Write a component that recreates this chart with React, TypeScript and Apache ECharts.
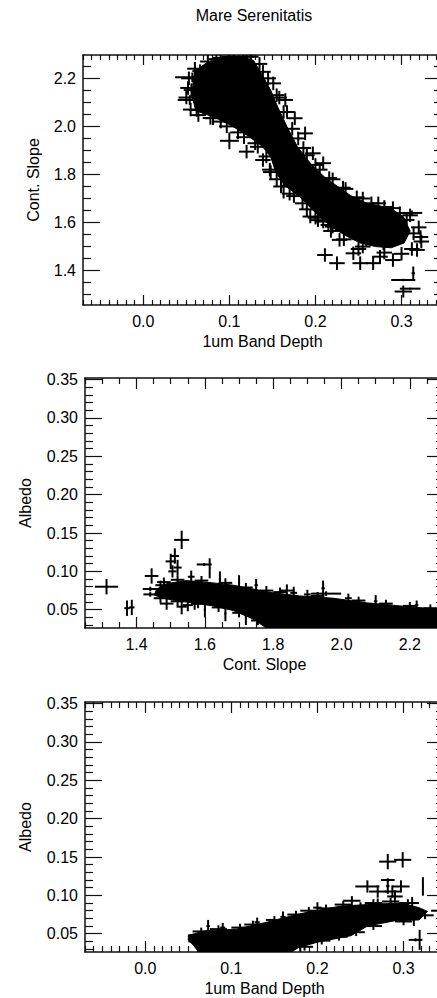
import React, { useEffect, useRef } from 'react';
import * as echarts from 'echarts';

// ---------- texts ----------
const TITLE = 'Mare Serenitatis';
const BAND_LABEL = '1um Band Depth';
const SLOPE_LABEL = 'Cont. Slope';
const ALBEDO_LABEL = 'Albedo';

// ---------- tick labels ----------
const bandTicks = [0.0, 0.1, 0.2, 0.3];
const slopeTicks = [1.4, 1.6, 1.8, 2.0, 2.2];
const albedoTicks = [0.05, 0.1, 0.15, 0.2, 0.25, 0.3, 0.35];

// ---------- axis ranges ----------
const bandRange = [-0.07, 0.347];
const slopeRangeY = [1.257, 2.297];
const slopeRangeX = [1.249, 2.3];
const albedoRange = [0.0262, 0.352];

// ---------- panel 1: band depth vs continuum slope ----------
// dense core of the cloud (outline of the solid region)
const core1: number[][] = [
  [0.06, 2.23], [0.075, 2.268], [0.093, 2.285], [0.112, 2.292], [0.128, 2.275], [0.137, 2.221],
  [0.148, 2.151], [0.156, 2.082], [0.167, 1.999], [0.179, 1.916], [0.194, 1.847], [0.21, 1.791],
  [0.225, 1.752], [0.241, 1.712], [0.26, 1.68], [0.287, 1.66], [0.302, 1.625], [0.31, 1.565],
  [0.303, 1.515], [0.288, 1.495], [0.27, 1.5], [0.252, 1.515], [0.238, 1.54], [0.222, 1.574],
  [0.208, 1.615], [0.196, 1.655], [0.181, 1.71], [0.165, 1.752], [0.154, 1.808], [0.148, 1.874],
  [0.138, 1.918], [0.122, 1.96], [0.103, 2.002], [0.083, 2.038], [0.061, 2.065], [0.057, 2.123],
  [0.058, 2.193],
];
// individual measurements [x, y, xErr?, yErr?]
const pts1: number[][] = [
  [0.057, 2.204, 0.02, 0.02], [0.066, 2.23], [0.056, 2.151], [0.054, 2.11, 0.014, 0.02],
  [0.062, 2.068], [0.064, 2.047], [0.081, 2.034], [0.1, 1.94, 0.011, 0.035], [0.12, 1.895],
  [0.139, 1.86], [0.165, 2.11], [0.176, 2.034], [0.188, 1.971], [0.197, 1.888], [0.209, 1.847],
  [0.163, 1.75, 0.002, 0.05], [0.194, 1.625], [0.209, 1.604], [0.22, 1.583], [0.211, 1.465],
  [0.225, 1.431], [0.252, 1.431], [0.267, 1.431], [0.273, 1.68], [0.298, 1.639], [0.314, 1.555],
  [0.323, 1.521], [0.29, 1.444], [0.302, 1.361, 0.014, 0.005], [0.3136, 1.389, 0.002, 0.028],
  [0.302, 1.313, 0.01, 0.025], [0.31, 1.325, 0.012, 0.004], [0.24, 1.639], [0.244, 1.555],
  [0.259, 1.528], [0.279, 1.514], [0.29, 1.555], [0.228, 1.528], [0.236, 1.694], [0.259, 1.611],
  [0.283, 1.583], [0.306, 1.611], [0.318, 1.486], [0.275, 1.458], [0.244, 1.472], [0.139, 2.227],
  [0.116, 2.276], [0.151, 2.179], [0.085, 2.28], [0.1, 2.29], [0.125, 2.29], [0.07, 2.08],
  [0.09, 2.02], [0.11, 1.975], [0.13, 1.93], [0.147, 1.82], [0.155, 1.78], [0.17, 1.72],
  [0.185, 1.68], [0.2, 1.62], [0.215, 1.59], [0.25, 1.49], [0.158, 2.12], [0.167, 2.06],
  [0.18, 1.95], [0.19, 1.88], [0.205, 1.82], [0.22, 1.78], [0.235, 1.74], [0.255, 1.7],
  [0.28, 1.665], [0.312, 1.64, 0.012, 0.01],
  // upper-right edge
  [0.135, 2.26], [0.145, 2.2], [0.155, 2.13], [0.163, 2.06], [0.173, 1.99], [0.186, 1.91],
  [0.2, 1.84], [0.216, 1.785], [0.232, 1.745], [0.248, 1.705], [0.265, 1.68], [0.29, 1.66],
  [0.31, 1.63], [0.32, 1.58], [0.322, 1.54],
  // lower-left edge
  [0.055, 2.07], [0.078, 2.035], [0.097, 2.0], [0.117, 1.955], [0.133, 1.915], [0.143, 1.875],
  [0.148, 1.81], [0.16, 1.75], [0.175, 1.71], [0.19, 1.655], [0.203, 1.61], [0.218, 1.565],
  [0.233, 1.53], [0.255, 1.5], [0.28, 1.475], [0.3, 1.47], [0.312, 1.49],
  // top and left edge
  [0.06, 2.24], [0.075, 2.27], [0.09, 2.285], [0.105, 2.29], [0.12, 2.29], [0.052, 2.16],
  [0.053, 2.2], [0.05, 2.12],
];

// ---------- panel 2: continuum slope vs albedo ----------
const core2: number[][] = [
  [1.459, 0.077], [1.488, 0.084], [1.546, 0.088], [1.624, 0.085], [1.683, 0.082], [1.741, 0.077],
  [1.8, 0.072], [1.878, 0.068], [1.976, 0.065], [2.073, 0.059], [2.171, 0.055], [2.3, 0.05],
  [2.3, 0.0262], [1.78, 0.0262], [1.741, 0.038], [1.683, 0.049], [1.624, 0.055], [1.546, 0.06],
  [1.488, 0.064], [1.452, 0.069],
];
const pts2: number[][] = [
  [1.312, 0.08, 0.034, 0.01], [1.372, 0.052, 0.008, 0.01], [1.386, 0.053, 0.008, 0.01],
  [1.444, 0.094, 0.02, 0.01], [1.44, 0.077, 0.022, 0.003], [1.44, 0.07, 0.02, 0.003],
  [1.5, 0.113, 0.015, 0.01], [1.52, 0.105, 0.012, 0.01], [1.512, 0.12, 0.012, 0.01],
  [1.505, 0.1, 0.012, 0.008], [1.532, 0.141, 0.022, 0.012], [1.598, 0.109, 0.022, 0.002],
  [1.614, 0.104, 0.002, 0.013], [1.488, 0.058, 0.02, 0.008], [1.532, 0.054, 0.015, 0.01],
  [1.55, 0.056, 0.015, 0.008], [1.57, 0.058, 0.01, 0.008], [1.84, 0.075], [1.946, 0.078, 0.005, 0.01],
  [1.955, 0.071, 0.044, 0.003], [1.76, 0.05, 0.02, 0.003], [2.27, 0.039, 0.02, 0.01],
  [1.644, 0.09, 0.003, 0.01], [1.7, 0.085, 0.003, 0.01], [1.86, 0.072, 0.01, 0.008],
  [2.1, 0.061, 0.005, 0.008], [2.22, 0.056, 0.005, 0.006], [1.56, 0.093, 0.01, 0.008],
  [1.47, 0.082, 0.015, 0.006], [1.75, 0.082, 0.005, 0.008], [1.9, 0.07, 0.01, 0.006],
  [2.02, 0.065, 0.01, 0.006], [1.6, 0.05, 0.003, 0.01], [1.66, 0.045, 0.003, 0.01],
  [1.72, 0.04, 0.003, 0.01], [1.8, 0.028, 0.003, 0.01], [1.86, 0.03, 0.003, 0.006],
  // top edge
  [1.48, 0.086, 0.02, 0.006], [1.52, 0.089, 0.02, 0.006], [1.59, 0.088, 0.02, 0.006],
  [1.66, 0.085, 0.02, 0.006], [1.72, 0.079, 0.02, 0.006], [1.78, 0.075, 0.02, 0.006],
  [1.82, 0.073, 0.02, 0.006], [1.93, 0.068, 0.02, 0.005], [2.05, 0.062, 0.02, 0.005],
  [2.13, 0.058, 0.02, 0.005], [2.2, 0.055, 0.02, 0.005], [2.26, 0.052, 0.02, 0.005],
  // lower edge
  [1.47, 0.065, 0.02, 0.006], [1.52, 0.061, 0.02, 0.006], [1.58, 0.058, 0.02, 0.006],
  [1.64, 0.053, 0.02, 0.006], [1.7, 0.046, 0.02, 0.006], [1.755, 0.036, 0.02, 0.006],
];

// ---------- panel 3: band depth vs albedo ----------
const core3: number[][] = [
  [0.05, 0.048], [0.071, 0.054], [0.106, 0.056], [0.145, 0.066], [0.169, 0.073], [0.188, 0.078],
  [0.227, 0.086], [0.258, 0.088], [0.297, 0.09], [0.318, 0.084], [0.328, 0.079], [0.318, 0.068],
  [0.29, 0.067], [0.258, 0.06], [0.239, 0.0475], [0.2, 0.039], [0.178, 0.032], [0.17, 0.0262],
  [0.062, 0.0262], [0.056, 0.035], [0.05, 0.042],
];
const pts3: number[][] = [
  [0.2817, 0.144, 0.01, 0.01], [0.299, 0.1463, 0.01, 0.01], [0.2817, 0.12, 0.008, 0.002],
  [0.2817, 0.112, 0.002, 0.01], [0.258, 0.1116, 0.014, 0.008], [0.297, 0.1116, 0.01, 0.008],
  [0.29, 0.0986], [0.27, 0.105, 0.01, 0.008], [0.287, 0.105], [0.3225, 0.1116, 0.001, 0.012],
  [0.314, 0.042, 0.008, 0.002], [0.3187, 0.042, 0.001, 0.013], [0.062, 0.048, 0.012, 0.002],
  [0.06, 0.04, 0.01, 0.002], [0.073, 0.06, 0.002, 0.008], [0.09, 0.058, 0.003, 0.006],
  [0.13, 0.065, 0.003, 0.006], [0.16, 0.072, 0.003, 0.007], [0.2, 0.084, 0.005, 0.007],
  [0.24, 0.093, 0.01, 0.006], [0.2, 0.045, 0.02, 0.004], [0.22, 0.05, 0.01, 0.006],
  [0.34, 0.08, 0.008, 0.004], [0.3, 0.08, 0.01, 0.008], [0.31, 0.09, 0.008, 0.008],
  [0.25, 0.085, 0.01, 0.006], [0.27, 0.088, 0.008, 0.008], [0.18, 0.035, 0.003, 0.008],
  [0.175, 0.04, 0.01, 0.005], [0.312, 0.07, 0.002, 0.01],
  // top edge
  [0.065, 0.053, 0.01, 0.005], [0.085, 0.056, 0.01, 0.005], [0.11, 0.058, 0.01, 0.005],
  [0.125, 0.062, 0.01, 0.005], [0.15, 0.068, 0.01, 0.005], [0.175, 0.075, 0.01, 0.005],
  [0.19, 0.08, 0.01, 0.005], [0.21, 0.083, 0.01, 0.005], [0.23, 0.088, 0.01, 0.005],
  [0.265, 0.09, 0.01, 0.005], [0.285, 0.092, 0.01, 0.005], [0.305, 0.09, 0.01, 0.005],
  // lower edge
  [0.185, 0.033, 0.01, 0.005], [0.205, 0.041, 0.01, 0.005], [0.225, 0.046, 0.01, 0.005],
  [0.245, 0.052, 0.01, 0.005], [0.265, 0.06, 0.01, 0.005], [0.3, 0.066, 0.01, 0.005],
  [0.325, 0.074, 0.01, 0.005],
];

const FONT = '"Liberation Sans", Arial, Helvetica, sans-serif';
const INK = '#111';

function minorTicks(min: number, max: number, step: number, majorStep: number) {
  const out: number[] = [];
  const start = Math.ceil(min / step - 1e-9);
  const end = Math.floor(max / step + 1e-9);
  for (let i = start; i <= end; i++) {
    const v = +(i * step).toFixed(6);
    const r = v / majorStep;
    if (Math.abs(r - Math.round(r)) < 1e-6) continue;
    out.push(v);
  }
  return out;
}

function axisSet(
  dim: 'x' | 'y', gridIndex: number, range: number[], majors: number[], minors: number[],
  decimals: number, majorLen: number, minorLen: number, name: string, nameGap: number
) {
  const line = { color: INK, width: 1.5 };
  const tickLine = { color: INK, width: 1.2 };
  const common = { type: 'value', gridIndex, min: range[0], max: range[1], splitLine: { show: false }, minorTick: { show: false } };
  const main = dim === 'x' ? 'bottom' : 'left';
  const opp = dim === 'x' ? 'top' : 'right';
  return [
    {
      ...common, position: main, name, nameLocation: 'middle', nameGap,
      nameTextStyle: { fontSize: 16, color: '#000', fontFamily: FONT },
      axisLine: { show: true, onZero: false, lineStyle: line },
      axisTick: { show: true, inside: true, length: majorLen, customValues: majors, lineStyle: tickLine },
      axisLabel: {
        show: true, customValues: majors, formatter: (v: number) => v.toFixed(decimals),
        margin: dim === 'x' ? 8 : 7, fontSize: 16, color: '#000', fontFamily: FONT,
      },
    },
    {
      ...common, position: main, axisLine: { show: false, onZero: false },
      axisTick: { show: true, inside: true, length: minorLen, customValues: minors, lineStyle: tickLine },
      axisLabel: { show: false },
    },
    {
      ...common, position: opp, axisLine: { show: true, onZero: false, lineStyle: line },
      axisTick: { show: true, inside: true, length: majorLen, customValues: majors, lineStyle: tickLine },
      axisLabel: { show: false },
    },
    {
      ...common, position: opp, axisLine: { show: false, onZero: false },
      axisTick: { show: true, inside: true, length: minorLen, customValues: minors, lineStyle: tickLine },
      axisLabel: { show: false },
    },
  ];
}

function coreSeries(axisIndex: number, core: number[][]) {
  return {
    type: 'custom', xAxisIndex: axisIndex, yAxisIndex: axisIndex, clip: true, silent: true,
    data: core, encode: { x: 0, y: 1 },
    renderItem: (params: any, api: any) => {
      if (params.dataIndex !== 0) return null;
      const points = core.map((p) => api.coord(p));
      return { type: 'polygon', shape: { points }, style: { fill: '#000', stroke: '#000', lineWidth: 1 } };
    },
  };
}

function crossSeries(axisIndex: number, pts: number[][], defEx: number, defEy: number) {
  return {
    type: 'custom', xAxisIndex: axisIndex, yAxisIndex: axisIndex, clip: true, silent: true,
    data: pts.map((p) => [p[0], p[1]]), encode: { x: 0, y: 1 },
    renderItem: (params: any, api: any) => {
      const p = pts[params.dataIndex];
      const ex = p.length > 2 ? p[2] : defEx;
      const ey = p.length > 3 ? p[3] : defEy;
      const a = api.coord([p[0] - ex, p[1]]);
      const b = api.coord([p[0] + ex, p[1]]);
      const c = api.coord([p[0], p[1] - ey]);
      const d = api.coord([p[0], p[1] + ey]);
      const st = { stroke: '#000', lineWidth: 2 };
      return {
        type: 'group',
        children: [
          { type: 'line', shape: { x1: a[0], y1: a[1], x2: b[0], y2: b[1] }, style: st },
          { type: 'line', shape: { x1: c[0], y1: c[1], x2: d[0], y2: d[1] }, style: st },
        ],
      };
    },
  };
}

export default function App() {
  const ref = useRef<HTMLDivElement>(null);
  useEffect(() => {
    if (!ref.current) return;
    const chart = echarts.init(ref.current, undefined, { renderer: 'svg' });
    const grids = [
      { left: 83, top: 55, width: 359, height: 250 },
      { left: 85, top: 378, width: 359, height: 250 },
      { left: 85, top: 702, width: 359, height: 250 },
    ].map((g) => ({ ...g, containLabel: false, outerBoundsMode: 'none', show: false }));

    const bandMinors = minorTicks(bandRange[0], bandRange[1], 0.01, 0.1);
    const xAxis = [
      ...axisSet('x', 0, bandRange, bandTicks, bandMinors, 1, 10, 5, BAND_LABEL, 28),
      ...axisSet('x', 1, slopeRangeX, slopeTicks, minorTicks(slopeRangeX[0], slopeRangeX[1], 0.05, 0.2), 1, 11, 6, SLOPE_LABEL, 28),
      ...axisSet('x', 2, bandRange, bandTicks, bandMinors, 1, 11, 6, BAND_LABEL, 28),
    ];
    const albedoMinors = minorTicks(albedoRange[0], albedoRange[1], 0.01, 0.05);
    const yAxis = [
      ...axisSet('y', 0, slopeRangeY, slopeTicks, minorTicks(slopeRangeY[0], slopeRangeY[1], 0.05, 0.2), 1, 17, 8, SLOPE_LABEL, 42),
      ...axisSet('y', 1, albedoRange, albedoTicks, albedoMinors, 2, 17, 8, ALBEDO_LABEL, 52),
      ...axisSet('y', 2, albedoRange, albedoTicks, albedoMinors, 2, 17, 8, ALBEDO_LABEL, 52),
    ];

    chart.setOption({
      animation: false,
      backgroundColor: '#fff',
      grid: grids,
      xAxis,
      yAxis,
      graphic: [
        {
          type: 'text', x: 254, y: 15,
          style: { text: TITLE, fill: '#000', font: `16px ${FONT}`, textAlign: 'center', textVerticalAlign: 'middle' },
        },
      ],
      series: [
        coreSeries(0, core1), crossSeries(0, pts1, 0.009, 0.028),
        coreSeries(4, core2), crossSeries(4, pts2, 0.022, 0.008),
        coreSeries(8, core3), crossSeries(8, pts3, 0.009, 0.008),
      ],
    });
    return () => chart.dispose();
  }, []);
  return <div ref={ref} style={{ position: 'absolute', left: 0, top: 0, width: 437, height: 998 }} />;
}
